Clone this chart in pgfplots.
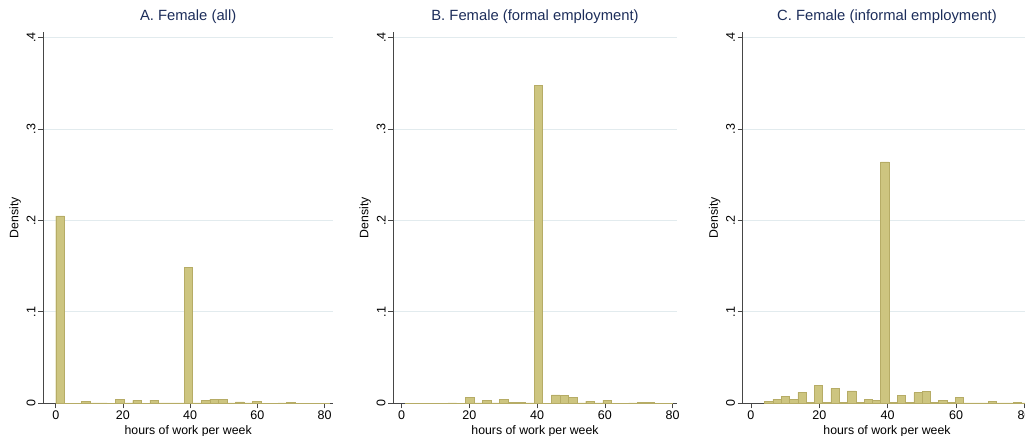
\documentclass[border=0pt]{standalone}
\usepackage{fontspec}
\setmainfont{Liberation Sans}
\usepackage{pgfplots}
\pgfplotsset{compat=1.18}
\definecolor{barfill}{RGB}{205,197,128}
\definecolor{barline}{RGB}{182,172,102}
\definecolor{axcol}{RGB}{70,70,70}
\definecolor{gridcol}{RGB}{226,235,238}
\definecolor{titlecol}{RGB}{28,45,90}
\pgfplotsset{
 hist/.style={
  scale only axis, height=371.3pt, ymin=0, ymax=0.406,
  axis lines*=left, axis line style={axcol, line width=0.7pt},
  ybar,
  xtick={0,20,40,60,80}, xticklabels={0,20,40,60,80},
  ytick={0,0.1,0.2,0.3,0.4}, yticklabels={0,.1,.2,.3,.4},
  tick align=outside, major tick length=5pt,
  tick style={axcol, line width=0.7pt},
  ymajorgrids, grid style={gridcol, line width=0.7pt},
  ticklabel style={font=\fontsize{12.5}{14}\selectfont},
  xticklabel style={anchor=north, inner sep=0pt},
  xticklabel shift=2pt,
  yticklabel style={rotate=90, anchor=south, inner sep=0pt},
  yticklabel shift=2.6pt,
  title style={at={(0.5,1)}, anchor=base, yshift=5pt, font=\fontsize{14.8}{17}\selectfont, text=titlecol, inner sep=0pt},
  xlabel={hours of work per week},
  xlabel style={at={(axis description cs:0.5,0)}, anchor=base, yshift=-31pt, font=\fontsize{12.3}{14}\selectfont, inner sep=0pt},
  ylabel={Density},
  ylabel style={at={([xshift=-28pt]axis description cs:0,0.5)}, anchor=center, font=\fontsize{12.3}{14}\selectfont, inner sep=0pt},
 },
 histbar/.style={fill=barfill, draw=barline, line width=0.4pt},
}
\begin{document}
\begin{tikzpicture}
\useasboundingbox (0,0) rectangle (1025pt,436pt);
% Panel A
\begin{axis}[hist, at={(43.3pt,32.7pt)}, anchor=south west, width=289.7pt,
  xmin=-3.7, xmax=82.5, title={A. Female (all)}]
\addplot[histbar, bar width=2.545] coordinates {
(1.27,0.205) (3.82,0.0003) (6.36,0.0003) (8.91,0.0018) (11.45,0.0004) (14.00,0.0005)
(16.54,0.0003) (19.09,0.0047) (21.63,0.0004) (24.18,0.0033) (26.72,0.0003) (29.27,0.0036)
(31.81,0.0004) (34.36,0.0005) (36.90,0.0004) (39.45,0.149) (42.00,0.0005) (44.54,0.0029)
(47.09,0.0044) (49.63,0.0044) (52.18,0.0005) (54.72,0.0015) (57.27,0.0004) (59.81,0.0018)
(62.36,0.0003) (64.90,0.0003) (67.45,0.0004) (69.99,0.0008) (72.54,0.0003) (75.08,0.0003)
(77.63,0.0003) (80.17,0.0002)};
\end{axis}
% Panel B
\begin{axis}[hist, at={(393.3pt,32.7pt)}, anchor=south west, width=283.4pt,
  xmin=-2.45, xmax=81.2, title={B. Female (formal employment)}]
\addplot[histbar, bar width=2.54] coordinates {
(2.27,0.0002) (4.81,0.0002) (7.35,0.0003) (9.89,0.0003) (12.43,0.0003) (14.97,0.0006)
(17.51,0.0003) (20.05,0.0065) (22.59,0.0005) (25.13,0.0036) (27.67,0.0004) (30.21,0.0040)
(32.75,0.0007) (35.29,0.0008) (37.83,0.0005) (40.37,0.348) (42.91,0.0003) (45.45,0.0091)
(47.99,0.0084) (50.53,0.0062) (53.07,0.0005) (55.61,0.0025) (58.15,0.0005) (60.69,0.0036)
(63.23,0.0003) (65.77,0.0003) (68.31,0.0004) (70.85,0.0007) (73.39,0.0007) (75.93,0.0003)
(78.47,0.0003)};
\end{axis}
% Panel C
\begin{axis}[hist, at={(742.7pt,32.7pt)}, anchor=south west, width=288.6pt,
  xmin=-2.4, xmax=82, title={C. Female (informal employment)}]
\addplot[histbar, bar width=2.424] coordinates {
(5.21,0.0018) (7.64,0.0044) (10.06,0.0073) (12.48,0.0047) (14.91,0.0120) (17.33,0.0008)
(19.76,0.0200) (22.18,0.0008) (24.60,0.0164) (27.03,0.0008) (29.45,0.0135) (31.88,0.0008)
(34.30,0.0044) (36.72,0.0036) (39.15,0.264) (41.57,0.0008) (44.00,0.0090) (46.42,0.0008)
(48.84,0.0117) (51.27,0.0128) (53.69,0.0008) (56.12,0.0036) (58.54,0.0008) (60.96,0.0066)
(63.39,0.0005) (65.81,0.0005) (68.24,0.0005) (70.66,0.0018) (73.08,0.0006) (75.51,0.0005)
(77.93,0.0010) (80.36,0.0004)};
\end{axis}
\end{tikzpicture}
\end{document}
